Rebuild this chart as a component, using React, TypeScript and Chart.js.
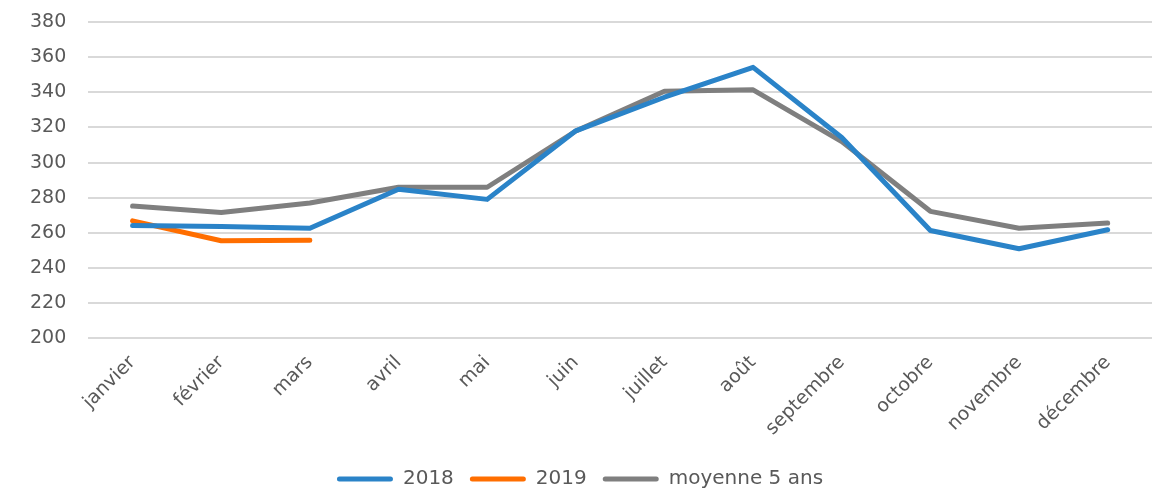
import React, { useEffect, useRef } from "react";
import { Chart, registerables } from "chart.js";

Chart.register(...registerables);

const categories = ["janvier", "février", "mars", "avril", "mai", "juin", "juillet", "août", "septembre", "octobre", "novembre", "décembre"];
const series2018 = [264.2, 263.7, 262.7, 284.9, 279.1, 318.1, 337.2, 354.2, 314.3, 261.4, 251.0, 261.8];
const series2019: (number | null)[] = [266.9, 255.6, 255.8, null, null, null, null, null, null, null, null, null];
const seriesAvg = [275.3, 271.7, 277.0, 286.0, 286.0, 318.0, 340.6, 341.4, 312.0, 272.3, 262.7, 265.6];
const yMin = 200;
const yMax = 380;
const yStep = 20;

const FONT = "'DejaVu Sans', sans-serif";
const TEXT = "#595959";

export default function App() {
  const ref = useRef<HTMLCanvasElement | null>(null);
  useEffect(() => {
    if (!ref.current) return;
    document.body.style.overflow = "hidden";
    const mk = (label: string, data: (number | null)[], color: string) => ({
      label,
      data,
      borderColor: color,
      backgroundColor: color,
      borderWidth: 5,
      pointRadius: 0,
      pointHoverRadius: 0,
      tension: 0,
      borderCapStyle: "round" as const,
      borderJoinStyle: "round" as const,
      spanGaps: false,
    });
    const chart = new Chart(ref.current, {
      type: "line",
      data: {
        labels: categories,
        datasets: [
          mk("2018", series2018, "#2A83C8"),
          mk("2019", series2019, "#FF6E00"),
          mk("moyenne 5 ans", seriesAvg, "#7F7F7F"),
        ],
      },
      options: {
        animation: false,
        responsive: true,
        maintainAspectRatio: false,
        layout: { padding: { top: 14, right: 6, left: 0, bottom: 0 } },
        plugins: {
          tooltip: { enabled: false },
          legend: {
            position: "bottom",
            labels: {
              boxWidth: 56,
              boxHeight: 5,
              useBorderRadius: true,
              borderRadius: 2.5,
              padding: 16,
              color: TEXT,
              font: { family: FONT, size: 20 },
              generateLabels: (c: any) =>
                c.data.datasets.map((d: any, i: number) => ({
                  text: d.label,
                  fillStyle: d.borderColor,
                  strokeStyle: d.borderColor,
                  lineWidth: 0,
                  hidden: false,
                  datasetIndex: i,
                  fontColor: TEXT,
                  borderRadius: 2.5,
                })),
            },
          },
        },
        scales: {
          x: {
            offset: true,
            grid: { display: false, drawTicks: false, offset: true },
            border: { display: false },
            afterFit: (s: any) => {
              s.paddingLeft = 0;
              s.paddingRight = 0;
            },
            ticks: {
              color: TEXT,
              font: { family: FONT, size: 19 },
              minRotation: 45,
              maxRotation: 45,
              padding: 13,
            },
          },
          y: {
            min: yMin,
            max: yMax,
            grid: { color: "#D9D9D9", lineWidth: 2, drawTicks: false },
            border: { display: false },
            afterFit: (s: any) => {
              s.paddingTop = 0;
              s.paddingBottom = 0;
            },
            ticks: {
              stepSize: yStep,
              color: TEXT,
              font: { family: FONT, size: 19 },
              padding: 22,
            },
          },
        },
      },
    });
    return () => chart.destroy();
  }, []);
  return (
    <div style={{ width: 1150, height: 491, position: "relative" }}>
      <canvas ref={ref} />
    </div>
  );
}
